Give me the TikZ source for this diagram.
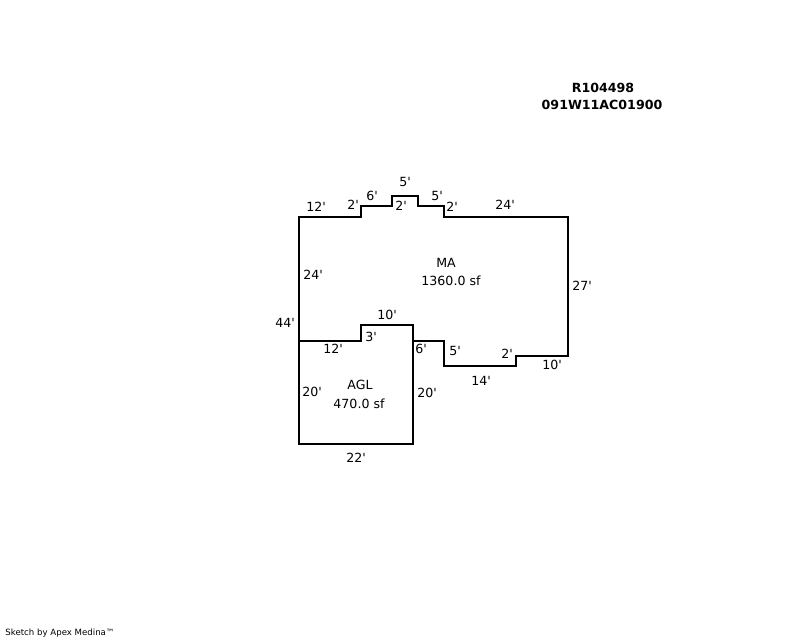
\documentclass[tikz,border=0pt]{standalone}
\usepackage{fontspec}
\setmainfont[Ligatures=TeXOff]{DejaVu Sans}

\begin{document}
\begin{tikzpicture}[x=1pt,y=-1pt,
						wall/.style={line width=2pt,line join=miter},
						dim/.style={inner sep=0pt,font=\fontsize{12.6}{14}\selectfont},
						title/.style={inner sep=0pt,font=\fontsize{12.6}{15}\selectfont\bfseries},
						credit/.style={inner sep=0pt,font=\fontsize{8.6}{11}\selectfont}]
		\useasboundingbox (0,0) rectangle (800,640);

		% main area outline
		\draw[wall] (299,341) -- (299,217) -- (361,217) -- (361,206) -- (392,206) -- (392,196)
			-- (418,196) -- (418,206) -- (444,206) -- (444,217) -- (568,217) -- (568,356)
			-- (516,356) -- (516,366) -- (444,366) -- (444,341) -- (413,341);
		% garage
		\draw[wall] (299,341) -- (361,341) -- (361,325) -- (413,325) -- (413,444) -- (299,444) -- cycle;

		\node[title]	(acct)		at (603,88)		{R104498};
		\node[title]	(parcel)	at (602,105)	{091W11AC01900};

		\node[dim]	(ma)		at (446,263)	{MA};
		\node[dim]	(maarea)	at (451,281)	{1360.0 sf};
		\node[dim]	(agl)		at (360,385)	{AGL};
		\node[dim]	(aglarea)	at (359,404)	{470.0 sf};

		\node[dim]	(d1)	at (316,207)	{12'};
		\node[dim]	(d2)	at (353,205)	{2'};
		\node[dim]	(d3)	at (372,196)	{6'};
		\node[dim]	(d4)	at (405,182)	{5'};
		\node[dim]	(d5)	at (401,206)	{2'};
		\node[dim]	(d6)	at (437,196)	{5'};
		\node[dim]	(d7)	at (452,207)	{2'};
		\node[dim]	(d8)	at (505,205)	{24'};
		\node[dim]	(d9)	at (313,275)	{24'};
		\node[dim]	(d10)	at (582,286)	{27'};
		\node[dim]	(d11)	at (285,323)	{44'};
		\node[dim]	(d12)	at (387,315)	{10'};
		\node[dim]	(d13)	at (371,337)	{3'};
		\node[dim]	(d14)	at (333,349)	{12'};
		\node[dim]	(d15)	at (421,349)	{6'};
		\node[dim]	(d16)	at (455,351)	{5'};
		\node[dim]	(d17)	at (507,354)	{2'};
		\node[dim]	(d18)	at (552,365)	{10'};
		\node[dim]	(d19)	at (481,381)	{14'};
		\node[dim]	(d20)	at (312,392)	{20'};
		\node[dim]	(d21)	at (427,393)	{20'};
		\node[dim]	(d22)	at (356,458)	{22'};

		\node[credit]	(sketch)	at (60,633)	{Sketch by Apex Medina™};
	\end{tikzpicture}
\end{document}
